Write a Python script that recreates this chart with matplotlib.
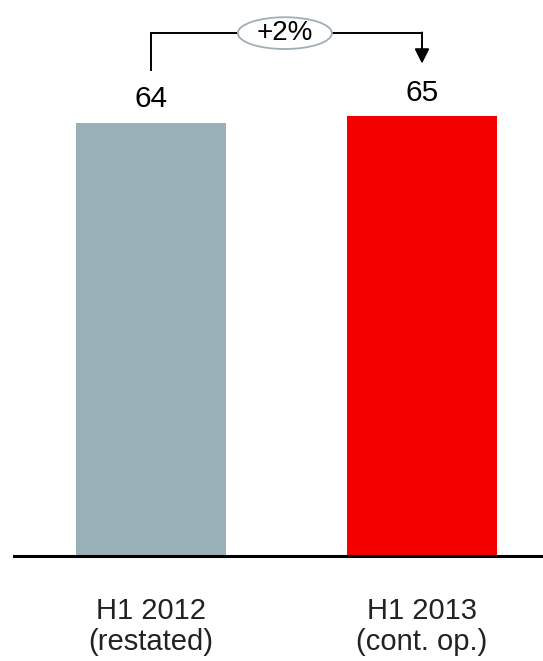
import matplotlib
matplotlib.use('Agg')
from matplotlib import pyplot as plt
from matplotlib.patches import Ellipse

plt.rcParams['font.family'] = ['Liberation Sans', 'DejaVu Sans']

# Chart data
categories = ['H1 2012\n(restated)', 'H1 2013\n(cont. op.)']
values = [64, 65]
value_labels = ['64', '65']
bar_colors = ['#9AB0B8', '#F40000']
change_label = '+2%'

fig = plt.figure(figsize=(5.43, 6.61), dpi=100, facecolor='white')
ax = fig.add_axes([14 / 543, 105 / 661, 1 - 14 / 543, 556 / 661])

x = list(range(len(categories)))
ax.bar(x, values, width=0.553, color=bar_colors)
ax.set_xlim(-0.5055, 1.4465)
ax.set_ylim(0, 82.2)

# value labels above bars
ax.text(x[0], values[0] + 3.6, value_labels[0], ha='center', va='center', fontsize=21.5, color='black')
ax.text(x[1], values[1] + 3.4, value_labels[1], ha='center', va='center', fontsize=21.5, color='black')

# bracket with growth bubble
y_top = 77.3
ell_x, ell_w, ell_h = 0.494, 0.347, 4.7
ax.plot([x[0], x[0], ell_x - ell_w / 2], [71.8, y_top, y_top], color='black', lw=1.4,
        solid_joinstyle='miter', clip_on=False)
ax.plot([ell_x + ell_w / 2, x[1]], [y_top, y_top], color='black', lw=1.4, clip_on=False)
ax.annotate('', xy=(x[1], 72.8), xytext=(x[1], y_top + 0.1),
            arrowprops=dict(arrowstyle='-|>', color='black', lw=1.4, mutation_scale=22,
                            shrinkA=0, shrinkB=0), annotation_clip=False)
ax.add_patch(Ellipse((ell_x, y_top), ell_w, ell_h, facecolor='white', edgecolor='#9FAFB5',
                     lw=1.3, clip_on=False, zorder=3))
ax.text(ell_x, y_top, change_label, ha='center', va='center', fontsize=20, zorder=4)

# category labels
for xi, label in zip(x, categories):
    ax.text(xi, -6.1, label, ha='center', va='top', fontsize=21, linespacing=1.12,
            color='#222222')

for side in ['top', 'right', 'left']:
    ax.spines[side].set_visible(False)
ax.spines['bottom'].set_linewidth(2.2)
ax.set_xticks([])
ax.set_yticks([])

fig.savefig('out.png', dpi=100, facecolor='white')
plt.close(fig)
